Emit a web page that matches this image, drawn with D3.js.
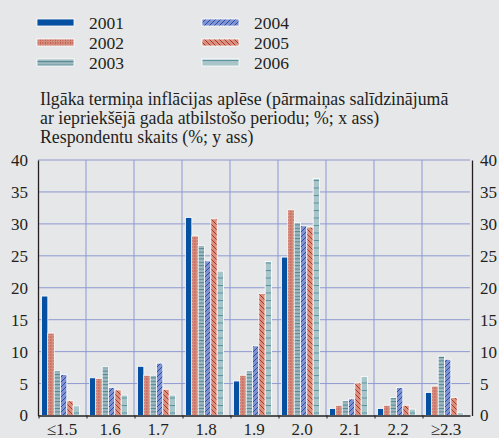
<!DOCTYPE html>
<html>
  <head>
    <meta charset="utf-8">
    <title></title>
    <script src="https://d3js.org/d3.v7.min.js" charset="utf-8"></script>
    <style type="text/css">
      body { margin: 0; background: #e6e7e9; overflow: hidden; }
      text { font-family: "Liberation Serif", "Times New Roman", serif; fill: #231f20; }
    </style>
  </head>
  <body>
    <script type="text/javascript">

      // Data
      var categories = ["≤1.5", "1.6", "1.7", "1.8", "1.9", "2.0", "2.1", "2.2", "≥2.3"];
      var years = ["2001", "2002", "2003", "2004", "2005", "2006"];
      var v2001 = [18.7, 5.9, 7.7, 31.0, 5.4, 24.8, 1.1, 1.1, 3.6];
      var v2002 = [12.9, 5.8, 6.3, 28.1, 6.3, 32.2, 1.6, 1.6, 4.6];
      var v2003 = [7.0, 7.6, 6.3, 26.6, 7.0, 30.2, 2.3, 2.8, 9.3];
      var v2004 = [6.4, 4.4, 8.2, 24.2, 10.9, 29.7, 2.6, 4.4, 8.8];
      var v2005 = [2.3, 4.0, 4.1, 30.8, 19.1, 29.5, 5.1, 1.6, 2.8];
      var v2006 = [1.5, 3.2, 3.2, 22.6, 24.1, 37.1, 6.1, 1.0, 0.4];
      var yTicks = [0, 5, 10, 15, 20, 25, 30, 35, 40];
      var titleLines = [
        "Ilgāka termiņa inflācijas aplēse (pārmaiņas salīdzinājumā",
        "ar iepriekšējā gada atbilstošo periodu; %; x ass)",
        "Respondentu skaits (%; y ass)"
      ];

      var series = [v2001, v2002, v2003, v2004, v2005, v2006];

      var width = 499, height = 438;
      var plotLeft = 38, plotRight = 470, plotTop = 160, plotBottom = 415.5;

      var svg = d3.select("body").append("svg")
          .attr("width", width)
          .attr("height", height);

      // Patterns for the series
      var defs = svg.append("defs");
      function pattern(id, w, h, bg, draw) {
        var p = defs.append("pattern")
            .attr("id", id)
            .attr("patternUnits", "userSpaceOnUse")
            .attr("width", w).attr("height", h);
        p.append("rect").attr("width", w).attr("height", h).attr("fill", bg);
        draw(p);
      }
      pattern("p2001", 4, 4, "#0550a0", function(p) {});
      pattern("p2002", 2.5, 3, "#d38c7c", function(p) {
        p.append("rect").attr("x", 0).attr("y", 0).attr("width", 0.8).attr("height", 2)
          .attr("fill", "#b5332a").attr("opacity", 0.6);
      });
      pattern("p2003", 4, 3.4, "#a0bac1", function(p) {
        p.append("rect").attr("x", 0).attr("y", 0).attr("width", 4).attr("height", 1)
          .attr("fill", "#4f8591");
      });
      pattern("p2004", 5, 5, "#8393d0", function(p) {
        p.append("path").attr("d", "M0,5 L5,0 M-1,1 L1,-1 M4,6 L6,4")
          .attr("stroke", "#1f4fb0").attr("stroke-width", 1);
      });
      pattern("p2005", 5, 5, "#d8917f", function(p) {
        p.append("path").attr("d", "M0,0 L5,5 M-1,4 L1,6 M4,-1 L6,1")
          .attr("stroke", "#b0302a").attr("stroke-width", 1);
      });
      pattern("p2006", 8, 7.5, "#a8c5ca", function(p) {
        p.append("rect").attr("x", 0).attr("y", 0).attr("width", 8).attr("height", 1)
          .attr("fill", "#5c929c");
      });

      // Legend
      var legend = svg.append("g");
      years.forEach(function(yr, i) {
        var col = Math.floor(i / 3), row = i % 3;
        var lx = 37 + col * 165, ly = 19 + row * 20;
        legend.append("rect")
            .attr("x", lx).attr("y", ly)
            .attr("width", 37).attr("height", 7)
            .attr("fill", "url(#p" + yr + ")")
            .attr("stroke", "#ffffff").attr("stroke-width", 0.8);
        legend.append("text")
            .attr("x", lx + 52).attr("y", ly + 10)
            .style("font-size", "17.5px")
            .text(yr);
      });

      // Title
      svg.append("g").selectAll("text")
          .data(titleLines)
        .enter().append("text")
          .attr("x", 40)
          .attr("y", function(d, i) { return 105 + i * 19; })
          .style("font-size", "17.8px")
          .text(function(d) { return d; });

      // Scales
      var x0 = d3.scaleBand().domain(categories).range([plotLeft, plotRight]);
      var x1 = d3.scaleBand().domain(years).range([3.5, x0.bandwidth() - 6.5]);
      var y = d3.scaleLinear().domain([0, 40]).range([plotBottom, plotTop]);

      // Grid
      var grid = svg.append("g");
      grid.selectAll("line.h")
          .data(yTicks.filter(function(t) { return t > 0; }))
        .enter().append("line")
          .attr("class", "h")
          .attr("x1", plotLeft).attr("x2", plotRight)
          .attr("y1", function(d) { return y(d); })
          .attr("y2", function(d) { return y(d); })
          .attr("stroke", "#8e99cf").attr("stroke-width", 1);
      grid.selectAll("line.v")
          .data(categories.slice(1))
        .enter().append("line")
          .attr("class", "v")
          .attr("x1", function(d) { return x0(d); })
          .attr("x2", function(d) { return x0(d); })
          .attr("y1", plotTop).attr("y2", plotBottom)
          .attr("stroke", "#8e99cf").attr("stroke-width", 1);

      // Bars
      var groups = svg.append("g").selectAll("g")
          .data(categories)
        .enter().append("g")
          .attr("transform", function(d) { return "translate(" + x0(d) + ",0)"; });
      groups.selectAll("rect")
          .data(function(d, i) {
            return years.map(function(yr, j) { return { year: yr, value: series[j][i] }; });
          })
        .enter().append("rect")
          .attr("x", function(d) { return x1(d.year); })
          .attr("width", x1.bandwidth())
          .attr("y", function(d) { return y(d.value); })
          .attr("height", function(d) { return plotBottom - y(d.value); })
          .attr("fill", function(d) { return "url(#p" + d.year + ")"; })
          .attr("stroke", "#ffffff").attr("stroke-width", 0.8);

      // Axes
      var yLeft = d3.axisLeft(y).tickValues(yTicks).tickSize(0).tickPadding(10);
      var gl = svg.append("g").attr("transform", "translate(" + plotLeft + ",0)").call(yLeft);
      var yRight = d3.axisRight(y).tickValues(yTicks).tickSize(0).tickPadding(8);
      var gr = svg.append("g").attr("transform", "translate(" + (plotRight + 2) + ",0)").call(yRight);
      [gl, gr].forEach(function(g) {
        g.select(".domain").attr("stroke", "#231f20").attr("stroke-width", 1.3);
        g.selectAll("text").style("font-size", "17px").attr("fill", "#231f20")
          .style("font-family", "'Liberation Serif', serif");
      });

      var xAxis = d3.axisBottom(x0).tickSize(0).tickPadding(7);
      var gx = svg.append("g").attr("transform", "translate(0," + plotBottom + ")").call(xAxis);
      gx.select(".domain").attr("stroke", "#231f20").attr("stroke-width", 1.3);
      gx.selectAll("text").style("font-size", "17px").attr("fill", "#231f20")
        .style("font-family", "'Liberation Serif', serif");
      gx.selectAll("line.bt")
          .data(categories)
        .enter().append("line")
          .attr("class", "bt")
          .attr("x1", function(d) { return x0(d) + 1; })
          .attr("x2", function(d) { return x0(d) + 1; })
          .attr("y1", 0).attr("y2", 3)
          .attr("stroke", "#231f20").attr("stroke-width", 1);

    </script>
  </body>
</html>
